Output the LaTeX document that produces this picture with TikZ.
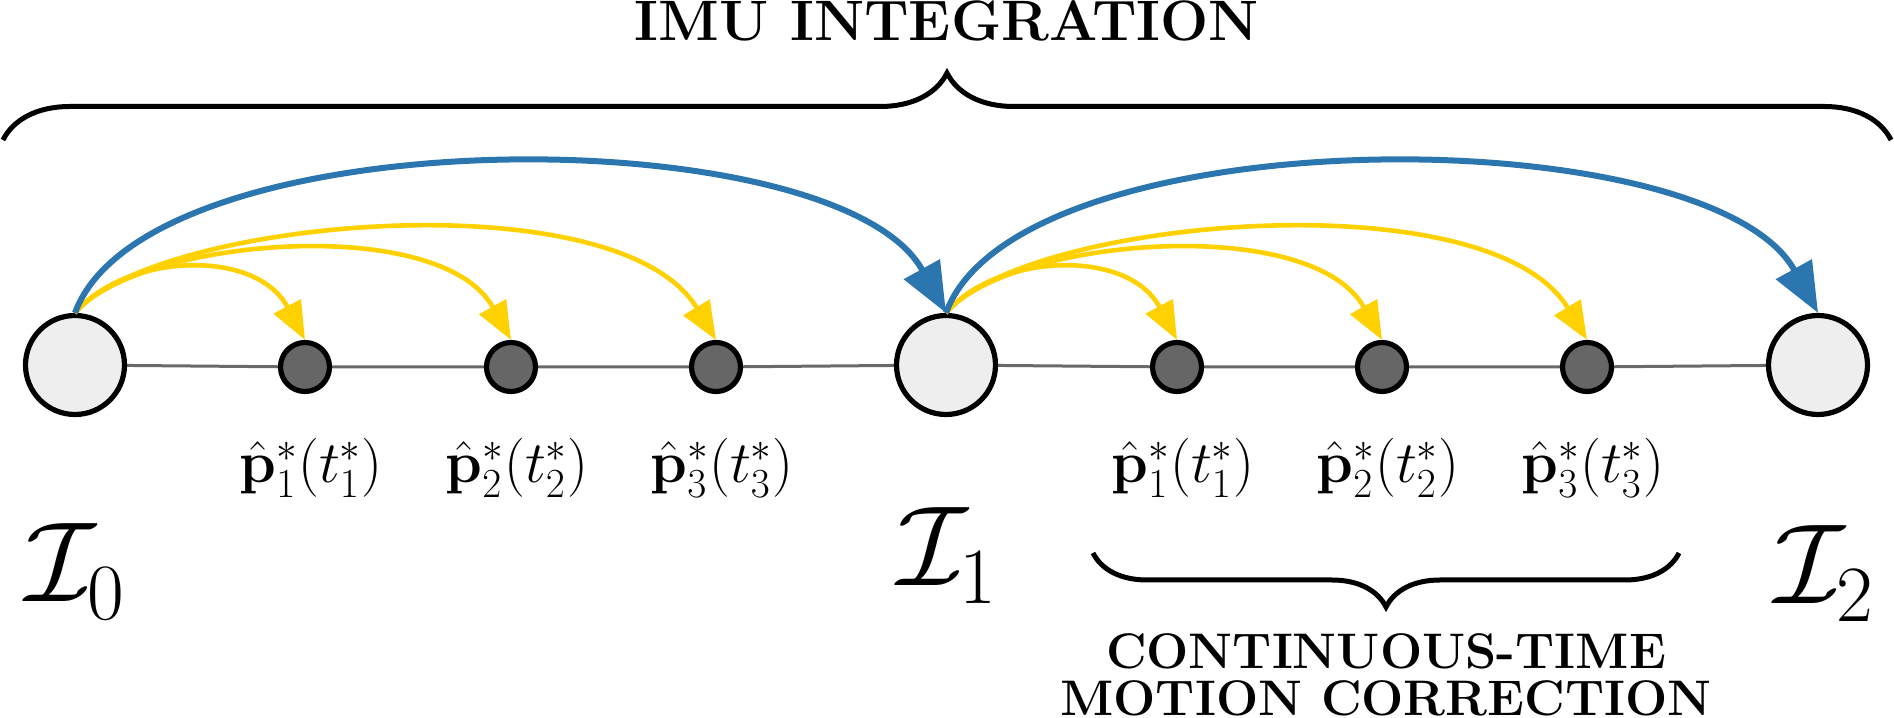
\RequirePackage{fix-cm}
\documentclass[tikz,border=0pt]{standalone}
\usepackage{amsmath}
\usetikzlibrary{arrows.meta,decorations.pathreplacing,backgrounds}
\definecolor{bl}{RGB}{44,118,176}
\definecolor{yl}{RGB}{255,209,0}
\definecolor{ln}{RGB}{105,105,105}
\definecolor{dk}{RGB}{102,102,102}
\definecolor{lt}{RGB}{238,238,238}
\begin{document}
\begin{tikzpicture}[x=0.5pt,y=0.5pt,
  big/.style={circle,draw=black,fill=lt,line width=2.6pt,minimum size=49.5pt,inner sep=0pt},
  small/.style={circle,draw=black,fill=dk,line width=2.6pt,minimum size=24.5pt,inner sep=0pt},
  conn/.style={draw=ln,line width=1.5pt},
  yarc/.style={draw=yl,line width=2.3pt,-{Triangle[length=19pt,width=15pt]}},
  barc/.style={draw=bl,line width=3pt,-{Triangle[length=25pt,width=20pt]}},
  brc/.style={draw=black,line width=2.5pt,decorate},
  lab/.style={inner sep=0pt,anchor=base,font=\fontsize{29.5}{32}\selectfont},
  ilab/.style={inner sep=0pt,anchor=base,font=\fontsize{57}{60}\selectfont},
  ttl/.style={inner sep=0pt,font=\fontsize{28.5}{30}\selectfont\bfseries},
  sub/.style={inner sep=0pt,font=\fontsize{25}{23.5}\selectfont\bfseries,align=center}
]
\useasboundingbox (0,0) rectangle (1894,717);

% nodes
\node[big]   (I0) at (75,352) {};
\node[small] (n1) at (305,350) {};
\node[small] (n2) at (511,350) {};
\node[small] (n3) at (716,350) {};
\node[big]   (I1) at (946,352) {};
\node[small] (n4) at (1177,350) {};
\node[small] (n5) at (1382,350) {};
\node[small] (n6) at (1587,350) {};
\node[big]   (I2) at (1818,352) {};

% connecting line
\begin{scope}[on background layer]
\draw[conn] (I0) -- (n1) (n1) -- (n2) (n2) -- (n3) (n3) -- (I1)
            (I1) -- (n4) (n4) -- (n5) (n5) -- (n6) (n6) -- (I2);
\end{scope}

% arcs
\foreach \s/\a/\b/\c/\e in {I0/n1/n2/n3/I1, I1/n4/n5/n6/I2}{
  \draw[yarc] (\s.north) .. controls +(49.5,59) and +(-49.5,93) .. (\a.north);
  \draw[yarc] (\s.north) .. controls +(62,74) and +(-71,128) .. (\b.north);
  \draw[yarc] (\s.north) .. controls +(79,94) and +(-98,163) .. (\c.north);
  \draw[barc] (\s.north) .. controls +(72,197) and +(-109,197) .. (\e.north);
}

% labels
\foreach \n/\x in {1/311,2/517,3/722}{
  \node[lab] (la\n) at (\x,234) {$\hat{\mathbf{p}}_{\n}^{*}(t_{\n}^{*})$};
}
\foreach \n/\x in {1/1183,2/1388,3/1593}{
  \node[lab] (lb\n) at (\x,234) {$\hat{\mathbf{p}}_{\n}^{*}(t_{\n}^{*})$};
}
\node[ilab] (L0) at (75,115) {$\mathcal{I}_0$};
\node[ilab] (L1) at (947,131) {$\mathcal{I}_1$};
\node[ilab] (L2) at (1824,113) {$\mathcal{I}_2$};

% braces
\coordinate (tbl) at (3,577);
\coordinate (tbr) at (1891,577);
\draw[brc,decoration={brace,amplitude=33.5pt}] (tbl) -- (tbr);
\coordinate (bbl) at (1093,164);
\coordinate (bbr) at (1679,164);
\draw[brc,decoration={brace,amplitude=27pt}] (bbr) -- (bbl);

% titles
\node[ttl,anchor=base] (title) at (947,676) {IMU INTEGRATION};
\node[sub,anchor=north] (mc) at (1386,84) {CONTINUOUS-TIME\\MOTION CORRECTION};
\end{tikzpicture}
\end{document}
